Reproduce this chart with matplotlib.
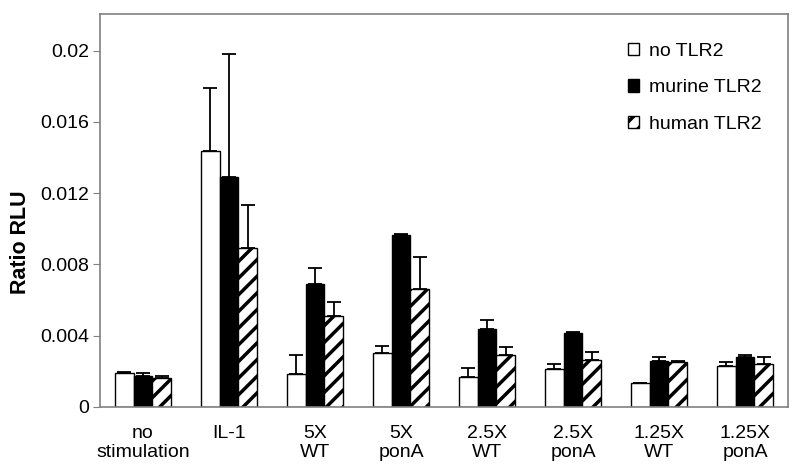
import numpy as np
import matplotlib
matplotlib.use("Agg")
import matplotlib.pyplot as plt

plt.rcParams['font.family'] = ['Liberation Sans', 'DejaVu Sans']
plt.rcParams['hatch.linewidth'] = 2.5

categories = ["no\nstimulation", "IL-1", "5X\nWT", "5X\nponA",
              "2.5X\nWT", "2.5X\nponA", "1.25X\nWT", "1.25X\nponA"]
series = ["no TLR2", "murine TLR2", "human TLR2"]

# mean values
no_tlr2 = [0.00190, 0.01436, 0.00183, 0.00301, 0.00166, 0.00211, 0.00133, 0.00232]
murine_tlr2 = [0.00172, 0.01289, 0.00688, 0.00965, 0.00436, 0.00413, 0.00258, 0.00281]
human_tlr2 = [0.00165, 0.00894, 0.00511, 0.00664, 0.00293, 0.00264, 0.00251, 0.00243]

# upper error bars
no_tlr2_err = [0.00005, 0.00355, 0.00109, 0.00043, 0.00053, 0.00030, 0.0, 0.00022]
murine_tlr2_err = [0.00018, 0.00690, 0.00094, 0.00007, 0.00050, 0.00010, 0.00021, 0.00011]
human_tlr2_err = [0.00008, 0.00238, 0.00078, 0.00177, 0.00045, 0.00043, 0.00005, 0.00036]

values = [no_tlr2, murine_tlr2, human_tlr2]
errors = [no_tlr2_err, murine_tlr2_err, human_tlr2_err]
faces = ["white", "black", "white"]
hatches = [None, None, "//"]

fig = plt.figure(figsize=(8, 4.69), dpi=100)
ax = fig.add_axes([0.125, 0.1322, 0.86, 0.838])

x = np.arange(len(categories))
w = 0.22
for i in range(3):
    pos = x + (i - 1) * w
    ax.bar(pos, values[i], width=w, color=faces[i], edgecolor="black",
           linewidth=1.0, hatch=hatches[i], label=series[i], zorder=2)
    err = np.array(errors[i])
    ax.errorbar(pos, values[i], yerr=[np.zeros_like(err), err], fmt="none",
                ecolor="black", elinewidth=1.3, capsize=5, capthick=1.3, zorder=3)

ax.set_xlim(-0.5, len(categories) - 0.5)
ax.set_ylim(0, 0.02205)
ax.set_yticks([0, 0.004, 0.008, 0.012, 0.016, 0.02])
ax.set_yticklabels(["0", "0.004", "0.008", "0.012", "0.016", "0.02"])
ax.set_xticks(x)
ax.set_xticklabels(categories, fontsize=14, linespacing=1.15)
ax.tick_params(axis="y", labelsize=14, length=5, color="#808080", direction="out", pad=3)
ax.tick_params(axis="x", length=0, pad=13)
for s in ax.spines.values():
    s.set_color("#808080")
    s.set_linewidth(1.2)
ax.set_ylabel("Ratio RLU", fontsize=15.5, fontweight="bold")
ax.yaxis.set_label_coords(-0.101, 0.42)

ax.legend(loc="upper left", bbox_to_anchor=(0.775, 0.925), bbox_transform=fig.transFigure,
          frameon=False, fontsize=14, handlelength=0.6, handleheight=0.6,
          handletextpad=0.5, labelspacing=1.0, borderaxespad=0)

fig.savefig("out.png", dpi=100)
